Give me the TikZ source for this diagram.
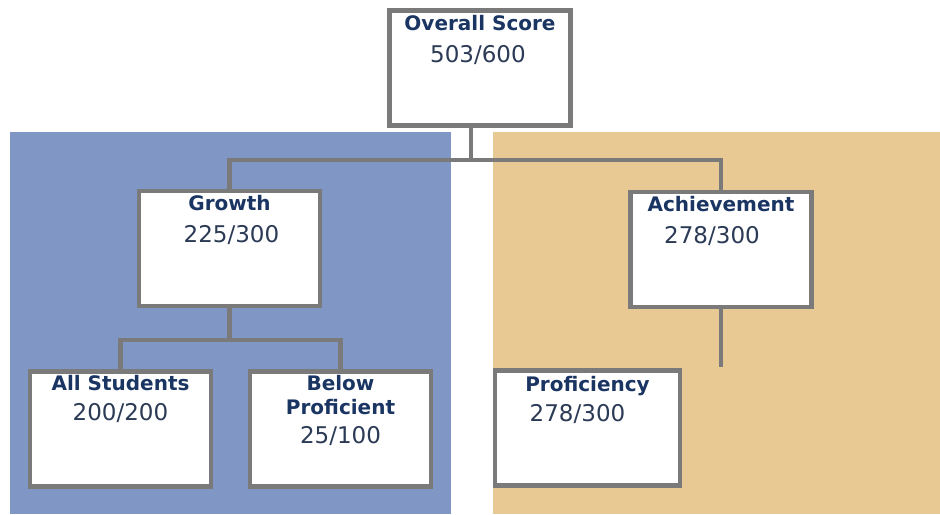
\documentclass[tikz,border=0pt]{standalone}
\usepackage{fontspec}
\setmainfont{DejaVu Sans}
\usepackage{tikz}
\definecolor{fondazul}{HTML}{8097C6}
\definecolor{fondocre}{HTML}{E8C994}
\definecolor{borde}{HTML}{7A7A7A}
\definecolor{tinta}{HTML}{1B3563}
\definecolor{tintab}{HTML}{2B3A55}

\begin{document}
\begin{tikzpicture}[x= 0.5pt, y= -0.5pt,
	caja/.style= {draw= borde, line width= 2.2pt, fill= white, minimum width= 90.5pt, minimum height= 57.5pt, inner sep= 0pt},
	titulo/.style= {anchor= base, text= tinta, font= \bfseries\fontsize{10}{12}\selectfont, align= center, inner sep= 0pt},
	puntos/.style= {anchor= base, text= tintab, font= \fontsize{11.5}{14}\selectfont, inner sep= 0pt},
	enlace/.style= {draw= borde, line width= 2.2pt}]
	\useasboundingbox (0,0) rectangle (940,514);

	% fondos
	\fill [fondazul] (10,132) rectangle (451,514);
	\fill [fondocre] (493,132) rectangle (940,514);

	% cajas
	\node [caja] (total) at (480,68) {};
	\node [caja] (growth) at (229.5,248.5) {};
	\node [caja] (achieve) at (721,249.5) {};
	\node [caja] (allst) at (120.5,429) {};
	\node [caja] (below) at (340.5,429) {};
	\node [caja, minimum width= 92.5pt] (profic) at (587.5,428) {};

	% enlaces
	\coordinate (split) at (471,160);
	\coordinate (gsplit) at (229.5,340);
	\coordinate (achend) at (721,367);
	\draw [enlace] (total.south -| split) -- (split);
	\draw [enlace] (growth.north) |- (split) -| (achieve.north);
	\draw [enlace] (growth.south) -- (gsplit);
	\draw [enlace] (allst.north) |- (gsplit) -| (below.north);
	\draw [enlace] (achieve.south) -- (achend);

	% textos
	\node [titulo] (totaltit) at ([yshift= -11pt]total.north) {Overall Score};
	\node [puntos] (totalpts) at ([xshift= -1pt, yshift= -27pt]total.north) {503/600};
	\node [titulo] (growthtit) at ([yshift= -11pt]growth.north) {Growth};
	\node [puntos] (growthpts) at ([xshift= 1pt, yshift= -27pt]growth.north) {225/300};
	\node [titulo] (achievetit) at ([yshift= -11pt]achieve.north) {Achievement};
	\node [puntos] (achievepts) at ([xshift= -4.5pt, yshift= -27pt]achieve.north) {278/300};
	\node [titulo] (allsttit) at ([yshift= -10.5pt]allst.north) {All Students};
	\node [puntos] (allstpts) at ([yshift= -25.5pt]allst.north) {200/200};
	\node [titulo] (belowtit) at ([yshift= -22.5pt]below.north) {Below\\Proficient};
	\node [puntos] (belowpts) at ([yshift= -37pt]below.north) {25/100};
	\node [titulo] (profictit) at ([yshift= -11.5pt]profic.north) {Proficiency};
	\node [puntos] (proficpts) at ([xshift= -5pt, yshift= -26.5pt]profic.north) {278/300};
\end{tikzpicture}
\end{document}
